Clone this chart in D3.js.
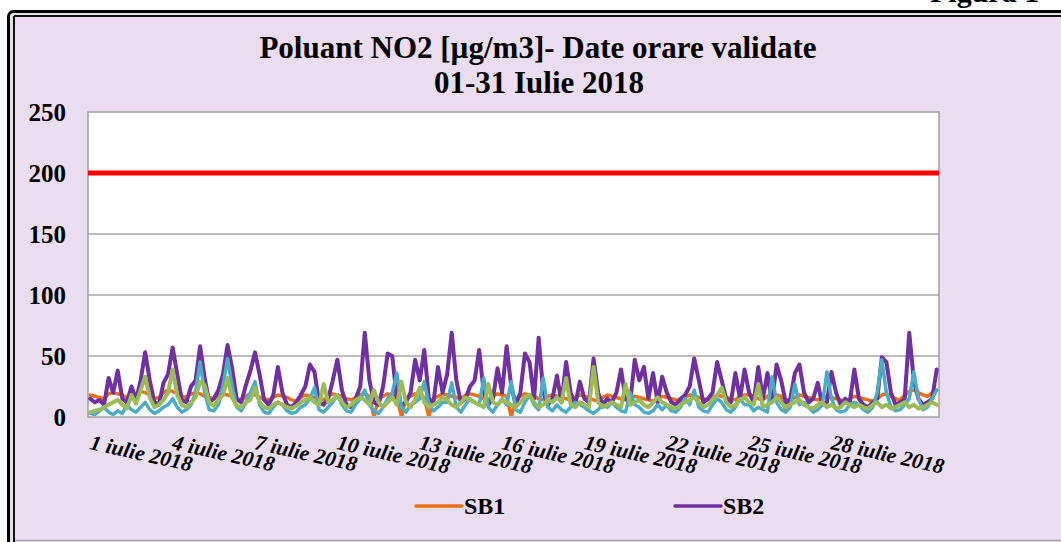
<!DOCTYPE html>
<html>
<head>
<meta charset="utf-8">
<script src="https://cdn.jsdelivr.net/npm/d3@7"></script>
<style>
  html, body { margin: 0; padding: 0; background: #ffffff; }
  svg { display: block; }
</style>
</head>
<body>
<svg id="chart" width="1061" height="542"></svg>
<script>
// ---------- DATA (4-hour samples, 6 per day, 1-31 July 2018) ----------
const titleLines = ["Poluant NO2 [\u00b5g/m3]- Date orare validate", "01-31 Iulie 2018"];
const captionText = "Figura 1";
const yTicks = [0, 50, 100, 150, 200, 250];
const limitValue = 200;
const dayLabels = ["1 iulie 2018","4 iulie 2018","7 iulie 2018","10 iulie 2018","13 iulie 2018",
  "16 iulie 2018","19 iulie 2018","22 iulie 2018","25 iulie 2018","28 iulie 2018"];
const labelDays = [1,4,7,10,13,16,19,22,25,28];
const legendNames = ["SB1", "SB2"];

const sb1 = [
 18,17,16,15,19,20, 19,18,16,17,19,21, 20,18,15,16,20,22, 21,19,17,16,19,20,
 19,17,16,15,18,19, 18,17,15,14,17,19, 18,16,15,14,16,18, 17,16,14,13,16,18,
 17,16,15,14,17,19, 18,17,15,14,16,18, 19,17,0,15,17,19, 18,17,0,15,17,19,
 18,16,0,15,17,19, 18,17,16,15,18,19, 18,17,15,14,17,19, 18,17,0,15,17,19,
 18,17,15,14,17,18, 17,16,15,14,16,18, 17,16,14,13,16,18, 17,16,15,14,16,17,
 16,15,14,13,15,17, 16,15,14,13,16,18, 17,16,15,14,16,18, 17,16,15,14,17,18,
 18,17,15,14,17,19, 18,17,5,14,16,18, 17,16,15,14,16,17, 16,15,14,13,15,17,
 16,15,14,13,15,18, 19,17,15,14,18,21, 22,20,18,17,20,22
];
const sb2 = [
 15,12,14,10,32,20, 38,15,12,25,14,30, 53,30,12,10,28,35, 57,35,14,12,25,30,
 58,32,12,15,22,35, 59,40,15,12,26,38, 53,35,14,10,18,41, 20,10,8,12,18,25,
 43,37,12,10,15,30, 47,22,10,8,15,25, 69,30,12,10,25,52, 50,15,10,12,20,47,
 30,55,15,12,41,20, 35,69,30,12,15,25, 30,55,20,10,15,40, 20,58,25,10,20,52,
 45,15,65,20,10,15, 34,12,45,20,10,29, 15,12,48,20,10,15, 12,20,39,15,12,47,
 30,41,15,36,12,33, 20,12,10,15,18,25, 48,30,12,15,20,45, 30,15,12,36,15,39,
 20,12,41,15,36,12, 43,30,12,15,36,43, 20,12,15,28,10,12, 37,20,10,15,12,39,
 15,10,8,12,15,49, 45,20,10,12,15,69, 30,15,10,12,15,39
];
const sb3 = [
 3,2,5,8,4,2, 5,3,10,6,4,8, 12,6,3,5,8,10, 15,8,4,6,10,20,
 45,20,6,5,10,25, 48,25,8,5,12,20, 29,10,4,3,8,12, 10,5,3,4,8,10,
 15,24,6,4,8,12, 18,10,5,4,10,15, 22,10,5,3,8,15, 20,36,8,4,10,12,
 15,29,10,5,8,12, 12,28,8,4,10,15, 12,10,32,8,4,10, 15,10,29,6,4,12,
 18,10,6,32,8,5, 10,6,4,8,12,10, 8,5,3,6,10,8, 12,8,5,4,20,10,
 8,4,3,5,10,6, 10,5,4,8,15,10, 22,8,5,4,10,15, 12,6,4,8,15,10,
 10,5,8,6,4,33, 12,6,4,8,27,10, 12,8,4,6,10,37, 15,6,4,5,10,12,
 10,6,4,8,20,47, 20,8,5,6,10,15, 37,15,6,8,15,22
];
const sb4 = [
 4,5,6,8,10,12, 14,10,7,18,11,22, 33,16,8,10,14,20, 39,18,10,8,12,16,
 29,26,12,9,14,18, 32,16,9,8,12,14, 24,12,8,7,10,12, 10,8,7,9,12,14,
 16,12,10,27,12,14, 18,12,8,10,14,16, 14,10,22,12,8,12, 16,10,29,12,8,14,
 24,12,8,10,12,16, 14,10,8,12,16,14, 12,10,8,27,12,10, 14,12,10,8,12,16,
 18,12,8,10,14,12, 16,12,32,10,8,12, 10,8,41,12,8,10, 12,10,8,27,10,12,
 14,10,8,12,16,12, 10,8,7,10,12,14, 16,12,8,10,14,18, 24,12,8,10,14,16,
 12,10,27,8,10,12, 16,12,8,10,12,14, 10,8,7,10,12,8, 10,7,8,12,10,8,
 10,8,7,10,12,8, 10,7,8,10,12,8, 10,7,8,10,12,10
];
const seriesList = [
  {name: "SB1", values: sb1, color: "#E8711C", width: 3.5},
  {name: "SB2", values: sb2, color: "#7030A0", width: 4},
  {name: "SB3", values: sb3, color: "#4BACC6", width: 3.5},
  {name: "SB4", values: sb4, color: "#9BBB59", width: 4}
];
const hoursPerSample = 4;
const totalHours = 31 * 24;

// ---------- LAYOUT ----------
const svg = d3.select("#chart");
const plot = {left: 88, right: 939, top: 112, bottom: 417};
const serif = "'Liberation Serif', 'Times New Roman', serif";

svg.append("rect").attr("x", 0).attr("y", 0).attr("width", 1061).attr("height", 542).attr("fill", "#fff");
// caption above the frame; only its lower edge is inside the picture, as in the reference
svg.append("text").attr("x", 930).attr("y", 1.5).text(captionText)
  .attr("font-family", serif).attr("font-weight", "bold").attr("font-size", 30).attr("fill", "#000");

// frame
svg.append("rect").attr("x", 8.5).attr("y", 11.5).attr("width", 1100).attr("height", 620)
  .attr("rx", 5).attr("fill", "#E4E0E6").attr("stroke", "#000").attr("stroke-width", 3);
svg.append("rect").attr("x", 14).attr("y", 16).attr("width", 1100).attr("height", 525)
  .attr("fill", "#E9DDEF");
svg.append("line").attr("x1", 14).attr("x2", 1100).attr("y1", 16).attr("y2", 16)
  .attr("stroke", "#111").attr("stroke-width", 2);
svg.append("line").attr("x1", 14).attr("x2", 14).attr("y1", 16).attr("y2", 542)
  .attr("stroke", "#111").attr("stroke-width", 2);
svg.append("line").attr("x1", 15).attr("x2", 1100).attr("y1", 540.5).attr("y2", 540.5)
  .attr("stroke", "#A9A3AE").attr("stroke-width", 1.5);

// title
svg.append("text").attr("x", 538).attr("y", 58).attr("text-anchor", "middle")
  .attr("font-family", serif).attr("font-weight", "bold").attr("font-size", 31)
  .text(titleLines[0]);
svg.append("text").attr("x", 539).attr("y", 93).attr("text-anchor", "middle")
  .attr("font-family", serif).attr("font-weight", "bold").attr("font-size", 31)
  .text(titleLines[1]);

// scales
const x = d3.scaleLinear().domain([0, totalHours]).range([plot.left, plot.right]);
const y = d3.scaleLinear().domain([0, 250]).range([plot.bottom, plot.top]);

// plot background
svg.append("rect").attr("x", plot.left).attr("y", plot.top)
  .attr("width", plot.right - plot.left).attr("height", plot.bottom - plot.top)
  .attr("fill", "#fff");

// gridlines
svg.append("g").selectAll("line").data(yTicks.filter(t => t > 0 && t < 250)).join("line")
  .attr("x1", plot.left).attr("x2", plot.right)
  .attr("y1", d => y(d)).attr("y2", d => y(d))
  .attr("stroke", "#A6A6A6").attr("stroke-width", 1.5);

// plot border
svg.append("rect").attr("x", plot.left).attr("y", plot.top)
  .attr("width", plot.right - plot.left).attr("height", plot.bottom - plot.top)
  .attr("fill", "none").attr("stroke", "#A0A0A0").attr("stroke-width", 1.5);

// y axis labels
const yAxis = d3.axisLeft(y).tickValues(yTicks).tickSize(0).tickPadding(22);
const yg = svg.append("g").attr("transform", `translate(${plot.left},0)`).call(yAxis);
yg.select(".domain").remove();
yg.selectAll("text").attr("font-family", serif).attr("font-weight", "bold")
  .attr("font-size", 25).attr("fill", "#000").attr("dy", "0.34em");

// limit line
svg.append("line").attr("x1", plot.left).attr("x2", plot.right)
  .attr("y1", y(limitValue)).attr("y2", y(limitValue))
  .attr("stroke", "#FF0000").attr("stroke-width", 5);

// series
svg.append("clipPath").attr("id", "pclip").append("rect")
  .attr("x", plot.left).attr("y", plot.top - 5)
  .attr("width", plot.right - plot.left).attr("height", plot.bottom - plot.top + 4);
const line = d3.line()
  .x((d, i) => x(i * hoursPerSample + hoursPerSample / 2))
  .y(d => y(d));
const lg = svg.append("g").attr("clip-path", "url(#pclip)");
seriesList.forEach(s => {
  lg.append("path").datum(s.values).attr("d", line)
    .attr("fill", "none").attr("stroke", s.color).attr("stroke-width", s.width)
    .attr("stroke-linejoin", "round").attr("stroke-linecap", "round");
});

// x axis labels
const xl = svg.append("g");
labelDays.forEach((d, i) => {
  const px = x((d - 1) * 24) + 1;
  xl.append("text")
    .attr("transform", `translate(${px},${449}) rotate(12.5)`)
    .attr("font-family", serif).attr("font-weight", "bold").attr("font-style", "italic")
    .attr("font-size", 21.5).attr("fill", "#000")
    .text(dayLabels[i]);
});

// legend
const legendX = [416, 675];
legendNames.forEach((n, i) => {
  const s = seriesList.find(q => q.name === n);
  svg.append("line").attr("x1", legendX[i]).attr("x2", legendX[i] + 46)
    .attr("y1", 506).attr("y2", 506)
    .attr("stroke", s.color).attr("stroke-width", 3.5).attr("stroke-linecap", "round");
  svg.append("text").attr("x", legendX[i] + 48).attr("y", 514)
    .attr("font-family", serif).attr("font-weight", "bold").attr("font-size", 24)
    .attr("fill", "#000").text(n);
});
</script>
</body>
</html>
